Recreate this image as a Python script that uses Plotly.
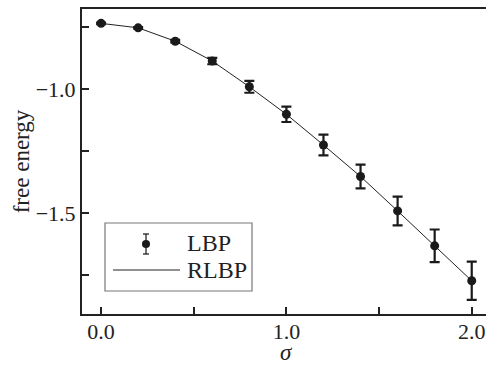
import plotly.graph_objects as go

sigma = [0.0, 0.2, 0.4, 0.6, 0.8, 1.0, 1.2, 1.4, 1.6, 1.8, 2.0]
lbp = [-0.734, -0.752, -0.806, -0.886, -0.990, -1.101, -1.225, -1.352, -1.491, -1.632, -1.773]
lbp_err = [0.003, 0.003, 0.005, 0.013, 0.024, 0.031, 0.042, 0.048, 0.058, 0.066, 0.077]
rlbp = [-0.734, -0.752, -0.806, -0.886, -0.990, -1.101, -1.225, -1.352, -1.491, -1.632, -1.773]

x_tickvals = [0.0, 0.5, 1.0, 1.5, 2.0]
x_ticktext = ["0.0", "", "1.0", "", "2.0"]
y_tickvals = [-0.75, -1.0, -1.25, -1.5, -1.75]
y_ticktext = ["", "−1.0", "", "−1.5", ""]

FONT = "'Liberation Serif', 'Times New Roman', Times, serif"
W, H = 486, 366
ML, MR, MT, MB = 82, 0, 9, 52
PW, PH = W - ML - MR, H - MT - MB

def px(x):
    return (x - ML) / PW

def py(y):
    return (H - MB - y) / PH

fig = go.Figure()
fig.add_trace(go.Scatter(
    x=sigma, y=rlbp, mode="lines",
    line=dict(color="#222222", width=1), showlegend=False,
))
fig.add_trace(go.Scatter(
    x=sigma, y=lbp, mode="markers",
    marker=dict(color="#1a1a1a", size=9),
    error_y=dict(type="data", array=lbp_err, color="#1a1a1a", thickness=2.2, width=5),
    showlegend=False,
))

# legend drawn manually
shapes = [
    dict(type="rect", xref="paper", yref="paper", x0=px(105), x1=px(252), y0=py(291), y1=py(223),
         line=dict(color="#777777", width=1.2), fillcolor="white", layer="above"),
    dict(type="line", xref="paper", yref="paper", x0=px(113), x1=px(180), y0=py(270), y1=py(270),
         line=dict(color="#222222", width=1), layer="above"),
    dict(type="line", xref="paper", yref="paper", x0=px(146), x1=px(146), y0=py(254), y1=py(234),
         line=dict(color="#222222", width=1.3), layer="above"),
    dict(type="line", xref="paper", yref="paper", x0=px(143), x1=px(149), y0=py(234), y1=py(234),
         line=dict(color="#222222", width=1.3), layer="above"),
    dict(type="line", xref="paper", yref="paper", x0=px(143), x1=px(149), y0=py(254), y1=py(254),
         line=dict(color="#222222", width=1.3), layer="above"),
    dict(type="circle", xref="paper", yref="paper", x0=px(142), x1=px(150), y0=py(248), y1=py(240),
         line=dict(color="#1a1a1a", width=0), fillcolor="#1a1a1a", layer="above"),
]
annotations = [
    dict(text="LBP", xref="paper", yref="paper", x=px(185), y=py(243), xanchor="left", yanchor="middle",
         showarrow=False, font=dict(family=FONT, size=24, color="#222222")),
    dict(text="RLBP", xref="paper", yref="paper", x=px(185), y=py(270), xanchor="left", yanchor="middle",
         showarrow=False, font=dict(family=FONT, size=24, color="#222222")),
    dict(text="<i>σ</i>", xref="x", yref="paper", x=1.0, y=py(366.5), xanchor="center", yanchor="bottom",
         showarrow=False, font=dict(family=FONT, size=23, color="#222222")),
]

fig.update_layout(
    width=W, height=H,
    margin=dict(l=ML, r=MR, t=MT, b=MB, pad=0),
    paper_bgcolor="white", plot_bgcolor="white",
    font=dict(family=FONT, size=23, color="#222222"),
    shapes=shapes, annotations=annotations,
    xaxis=dict(
        range=[-0.103, 2.077], tickvals=x_tickvals, ticktext=x_ticktext,
        tickfont=dict(size=22), ticklabelstandoff=-3,
        ticks="inside", ticklen=7, tickwidth=1.5, tickcolor="#222222",
        showline=True, linecolor="#222222", linewidth=2, mirror=True,
        showgrid=False, zeroline=False,
    ),
    yaxis=dict(
        range=[-1.907, -0.676], tickvals=y_tickvals, ticktext=y_ticktext,
        tickfont=dict(size=22),
        ticks="inside", ticklen=7, tickwidth=1.5, tickcolor="#222222",
        showline=True, linecolor="#222222", linewidth=2, mirror=False,
        showgrid=False, zeroline=False,
        title=dict(text="free energy", font=dict(size=23), standoff=0),
    ),
)

fig.write_html("out.html")
